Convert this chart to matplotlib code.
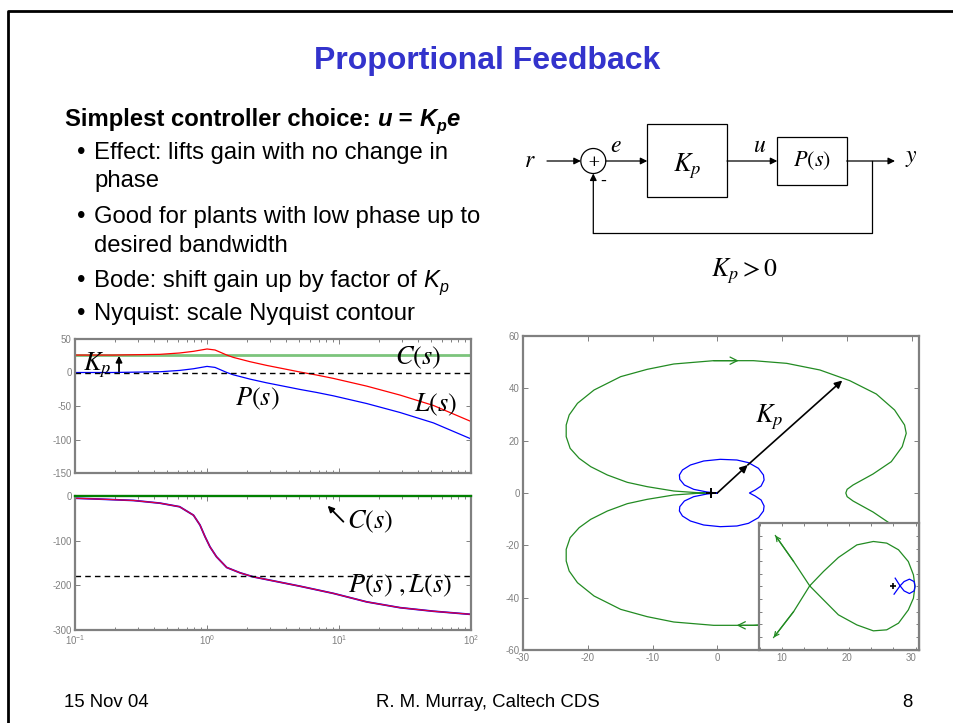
import matplotlib
matplotlib.use("Agg")
import matplotlib.pyplot as plt
from matplotlib.patches import Rectangle, Circle
from matplotlib.ticker import FixedLocator, NullFormatter, MultipleLocator

plt.rcParams["font.family"] = ["Liberation Sans", "DejaVu Sans"]
plt.rcParams["mathtext.fontset"] = "custom"
plt.rcParams["mathtext.rm"] = "Liberation Sans"
plt.rcParams["mathtext.it"] = "Liberation Sans:italic"
plt.rcParams["mathtext.bf"] = "Liberation Sans:bold"
plt.rcParams["axes.unicode_minus"] = False

# ---- Bode data ----
w_mag = [0.1, 0.195, 0.44, 0.62, 0.79, 1.0, 1.15, 1.41, 1.58, 2.12, 2.83,
         3.78, 5.07, 6.78, 9.06, 16.2, 29.0, 51.9, 100.0]
mag_P = [0, 0, 1.1, 3.1, 5.6, 9.1, 7.6, 0.1, -3.4, -9.9, -15.4,
         -20.3, -25.3, -29.8, -34.8, -46.3, -59.7, -75.2, -99.1]
mag_L = [26, 26, 27.1, 29.1, 31.6, 35.1, 33.6, 26.1, 22.6, 16.1, 10.6,
         5.7, 0.7, -3.8, -8.8, -20.3, -33.7, -49.2, -73.1]
w_C = [0.1, 100.0]
mag_C = [26, 26]
phase_C = [0, 0]

w_ph = [0.1, 0.155, 0.277, 0.44, 0.62, 0.79, 0.885, 0.966, 1.054, 1.18,
        1.41, 1.78, 2.24, 2.83, 5.07, 9.06, 16.2, 29.0, 51.9, 100.0]
phase_PL = [-5, -7, -10, -16, -24, -43, -65, -91, -114, -136,
            -160, -172, -181, -187, -202, -218, -237, -250, -258, -265]

# ---- Nyquist data: upper half (w > 0), lower half is the mirror image ----
nyq_P_re = [0, -1.59, -3.64, -5.08, -5.79, -5.85, -5.38, -4.15, -2.10, 0.46,
            3.03, 4.82, 6.36, 7.13, 7.23, 6.77, 5.85, 4.97]
nyq_P_im = [0, 0.38, 1.40, 3.06, 5.22, 6.88, 8.79, 10.70, 12.23, 12.87,
            12.61, 11.59, 9.43, 6.88, 4.97, 2.68, 1.15, 0]
nyq_L_re = [0, -3.13, -6.72, -10.82, -13.90, -16.97, -19.54, -21.33, -22.72,
            -23.33, -23.33, -22.87, -21.59, -19.03, -14.92, -10.82, -6.72,
            -0.56, 5.59, 10.72, 15.85, 20.46, 24.56, 27.38, 28.92, 29.18,
            28.56, 26.87, 24.05, 20.97, 20.05, 19.85]
nyq_L_im = [0, 0.13, 0.76, 2.42, 4.08, 6.88, 10.06, 13.25, 17.07, 21.53,
            25.99, 29.81, 34.27, 39.36, 44.46, 47.26, 49.30, 50.57, 50.57,
            49.55, 47.01, 42.93, 37.83, 31.72, 25.99, 22.80, 17.71, 11.97,
            7.26, 3.06, 1.40, 0]
kp_P = (4.7, 10.7)
kp_L = (19.3, 43.0)

# zoomed inset near the origin
ins_L_re = [-6.30, -5.48, -4.76, -4.14, -3.47, -2.64, -1.90, -1.30, -0.77,
            -0.33, -0.10, -0.03, -0.10, -0.33, -0.77, -1.30, -1.90, -2.64,
            -3.47, -4.14, -4.76, -5.48, -6.38]
ins_L_im = [4.03, 1.97, 0.04, -1.07, -2.26, -3.06, -3.53, -3.45, -2.92,
            -1.87, -0.94, 0.0, 0.91, 1.97, 2.90, 3.43, 3.56, 3.29, 2.29,
            1.18, 0.04, -2.0, -4.06]
ins_P_re = [-0.92, -0.70, -0.52, -0.28, -0.07, -0.03, -0.07, -0.28, -0.52,
            -0.70, -0.97]
ins_P_im = [0.65, 0.04, -0.36, -0.57, -0.36, 0.0, 0.38, 0.57, 0.38, 0.04, -0.62]

bullets = [
    ("Effect: lifts gain with no change in", True),
    ("phase", False),
    ("Good for plants with low phase up to", True),
    ("desired bandwidth", False),
]

GRAY = "#808080"
NGREEN = "#228b22"
LGREEN = "#7cc47c"
TITLE_BLUE = "#3333cc"

W, H = 954, 723
fig = plt.figure(figsize=(W / 100, H / 100), dpi=100)
renderer = fig.canvas.get_renderer()

# slide layer in pixel coordinates
ax0 = fig.add_axes([0, 0, 1, 1])
ax0.set_xlim(0, W)
ax0.set_ylim(H, 0)
ax0.axis("off")


def frac(x0, y0, x1, y1):
    return [x0 / W, 1 - y1 / H, (x1 - x0) / W, (y1 - y0) / H]


def rich(x, y, parts):
    """Place text pieces one after another on a common baseline."""
    for s, kw in parts:
        kw = dict(kw)
        dy = kw.pop("dy", 0)
        t = ax0.text(x, y + dy, s, ha="left", va="baseline", **kw)
        x = t.get_window_extent(renderer).x1


def arrow(ax, start, end, style="-|>", lw=0.9, color="k", ms=10):
    ax.annotate("", xy=end, xytext=start,
                arrowprops=dict(arrowstyle=style, lw=lw, color=color,
                                mutation_scale=ms, shrinkA=0, shrinkB=0))


def style(ax, size=7):
    for s in ax.spines.values():
        s.set_color(GRAY)
        s.set_linewidth(1.6)
    ax.tick_params(which="both", direction="in", top=True, right=True,
                   color=GRAY, labelcolor=GRAY, labelsize=size, width=0.7, pad=2.5)
    ax.tick_params(which="major", length=3.5)
    ax.tick_params(which="minor", length=2)


# slide frame
ax0.plot([8.5, 8.5, W + 5], [H + 5, 10.5, 10.5], color="black", lw=2.0)

# title and text block
ax0.text(487.5, 69, "Proportional Feedback", ha="center", va="baseline",
         fontsize=23, fontweight="bold", color=TITLE_BLUE)
bold = dict(fontsize=17.2, fontweight="bold")
boldit = dict(fontsize=17.2, fontweight="bold", fontstyle="italic")
rich(65, 126, [("Simplest controller choice: ", bold), ("u", boldit),
               (" = ", bold), ("K", boldit),
               ("p", dict(boldit, fontsize=11.5, dy=5)), ("e", boldit)])

reg = dict(fontsize=17.2)
ital = dict(fontsize=17.2, fontstyle="italic")
line_y = [159, 187, 223, 252]
for (txt, has_bullet), yy in zip(bullets, line_y):
    if has_bullet:
        ax0.text(77, yy, "\u2022", fontsize=17.2, va="baseline")
    ax0.text(94, yy, txt, va="baseline", **reg)
ax0.text(77, 287, "\u2022", fontsize=17.2, va="baseline")
rich(94, 287, [("Bode: shift gain up by factor of ", reg), ("K", ital),
               ("p", dict(ital, fontsize=11.5, dy=5))])
ax0.text(77, 320, "\u2022", fontsize=17.2, va="baseline")
ax0.text(94, 320, "Nyquist: scale Nyquist contour", va="baseline", **reg)

# footer
ax0.text(64, 707, "15 Nov 04", fontsize=13.4, va="baseline")
ax0.text(488, 707, "R. M. Murray, Caltech CDS", fontsize=13.4, va="baseline", ha="center")
ax0.text(913, 707, "8", fontsize=13.4, va="baseline", ha="right")

# block diagram
tm = dict(math_fontfamily="stix", ha="center", va="center")
yrow = 161
ax0.text(530, yrow, "$r$", fontsize=17, **tm)
arrow(ax0, (547, yrow), (580.8, yrow))
ax0.add_patch(Circle((593.3, yrow), 12.5, fill=False, lw=0.9))
ax0.text(593.3, yrow + 1, "+", fontsize=11, ha="center", va="center", family="DejaVu Serif")
ax0.text(603, 181, "-", fontsize=13, ha="center", va="center")
ax0.text(616, 146, "$e$", fontsize=17, **tm)
arrow(ax0, (605.8, yrow), (647.3, yrow))
ax0.add_patch(Rectangle((647.3, 124.3), 79.7, 72.4, fill=False, lw=0.9))
ax0.text(687, 166, "$K_p$", fontsize=19, **tm)
arrow(ax0, (727, yrow), (777.3, yrow))
ax0.text(760, 146, "$u$", fontsize=17, **tm)
ax0.add_patch(Rectangle((777.3, 136.7), 69.4, 48.3, fill=False, lw=0.9))
ax0.text(812, 161, "$P(s)$", fontsize=16, **tm)
arrow(ax0, (846.7, yrow), (895, yrow))
ax0.text(911, 158, "$y$", fontsize=17, **tm)
ax0.plot([871.7, 871.7, 593.3], [yrow, 233.3, 233.3], color="k", lw=0.9)
arrow(ax0, (593.3, 233.3), (593.3, 173.5))
ax0.text(744, 271, "$K_p > 0$", fontsize=18.5, **tm)

# ---- Bode magnitude ----
axm = fig.add_axes(frac(75, 339, 471, 473))
axm.semilogx(w_C, mag_C, color=LGREEN, lw=2.0)
axm.semilogx(w_mag, mag_P, color="blue", lw=0.9)
axm.semilogx(w_mag, mag_L, color="red", lw=0.9)
axm.axhline(0, color="black", ls="--", lw=1.0, dashes=(4, 3))
axm.set_xlim(0.1, 100)
axm.set_ylim(-150, 50)
axm.yaxis.set_major_locator(FixedLocator([-150, -100, -50, 0, 50]))
axm.xaxis.set_major_formatter(NullFormatter())
axm.xaxis.set_minor_formatter(NullFormatter())
style(axm)
bl = dict(math_fontfamily="stix", fontsize=19)
axm.text(0.1156, 11, "$K_p$", ha="left", va="center", **bl)
arrow(axm, (0.2155, 1.5), (0.2155, 25), lw=1.3, ms=9)
axm.text(39.5, 22, "$C(s)$", ha="center", va="center", **bl)
axm.text(2.4, -40, "$P(s)$", ha="center", va="center", **bl)
axm.text(54, -49, "$L(s)$", ha="center", va="center", **bl)

# ---- Bode phase ----
axp = fig.add_axes(frac(75, 496, 471, 630))
axp.semilogx(w_ph, phase_PL, color="blue", lw=1.3)
axp.semilogx(w_ph, phase_PL, color="#e0003a", lw=0.9)
axp.semilogx(w_C, phase_C, color="green", lw=1.6, clip_on=False, zorder=5)
axp.axhline(-180, color="black", ls="--", lw=1.0, dashes=(4, 3))
axp.set_xlim(0.1, 100)
axp.set_ylim(-300, 0)
axp.yaxis.set_major_locator(FixedLocator([-300, -200, -100, 0]))
axp.xaxis.set_minor_formatter(NullFormatter())
style(axp)
arrow(axp, (10.8, -57.6), (8.2, -21.7), lw=1.3, ms=9)
axp.text(11.4, -57.6, "$C(s)$", ha="left", va="center", **bl)
axp.text(11.8, -202, r"$P(s)\ ,L(s)$", ha="left", va="center", **bl)

# ---- Nyquist ----
axn = fig.add_axes(frac(523, 336, 919, 650))
# full contour = upper half followed by its mirror (negative frequencies)
gx = nyq_L_re + nyq_L_re[::-1]
gy = nyq_L_im + [-v for v in nyq_L_im[::-1]]
bx = nyq_P_re + nyq_P_re[::-1]
by = nyq_P_im + [-v for v in nyq_P_im[::-1]]
axn.plot(gx, gy, color=NGREEN, lw=0.9)
axn.plot(bx, by, color="blue", lw=0.9)
axn.plot([-1], [0], "+", color="black", ms=7, mew=1.4)
arrow(axn, (nyq_L_re[17], nyq_L_im[17]), (3.3, nyq_L_im[17]), style="->",
      color=NGREEN, ms=13)
arrow(axn, (nyq_L_re[18] + 1, -nyq_L_im[18]), (3.0, -nyq_L_im[18]), style="->",
      color=NGREEN, ms=13)
arrow(axn, (0, 0), kp_P, lw=1.2, ms=11)
arrow(axn, kp_P, kp_L, lw=1.2, ms=11)
axn.text(5.9, 29.0, "$K_p$", math_fontfamily="stix", fontsize=19,
         ha="left", va="center")
axn.set_xlim(-30, 31.15)
axn.set_ylim(-60, 60)
axn.xaxis.set_major_locator(MultipleLocator(10))
axn.yaxis.set_major_locator(MultipleLocator(20))
style(axn)

# inset
axi = fig.add_axes(frac(758.7, 522.7, 919, 650))
axi.plot(ins_L_re, ins_L_im, color=NGREEN, lw=0.9)
axi.plot(ins_P_re, ins_P_im, color="blue", lw=0.9)
axi.plot([-1], [0], "+", color="black", ms=4, mew=1.2)
arrow(axi, (ins_L_re[1], ins_L_im[1]), (ins_L_re[0], ins_L_im[0]), style="->",
      color=NGREEN, ms=8)
arrow(axi, (ins_L_re[-2], ins_L_im[-2]), (ins_L_re[-1], ins_L_im[-1]), style="->",
      color=NGREEN, ms=8)
axi.set_xlim(-7.05, 0.15)
axi.set_ylim(-5.05, 5.05)
axi.xaxis.set_major_locator(MultipleLocator(1))
axi.yaxis.set_major_locator(MultipleLocator(1))
axi.xaxis.set_major_formatter(NullFormatter())
axi.yaxis.set_major_formatter(NullFormatter())
style(axi)
axi.tick_params(length=2.5)

fig.savefig("out.png", dpi=100)
